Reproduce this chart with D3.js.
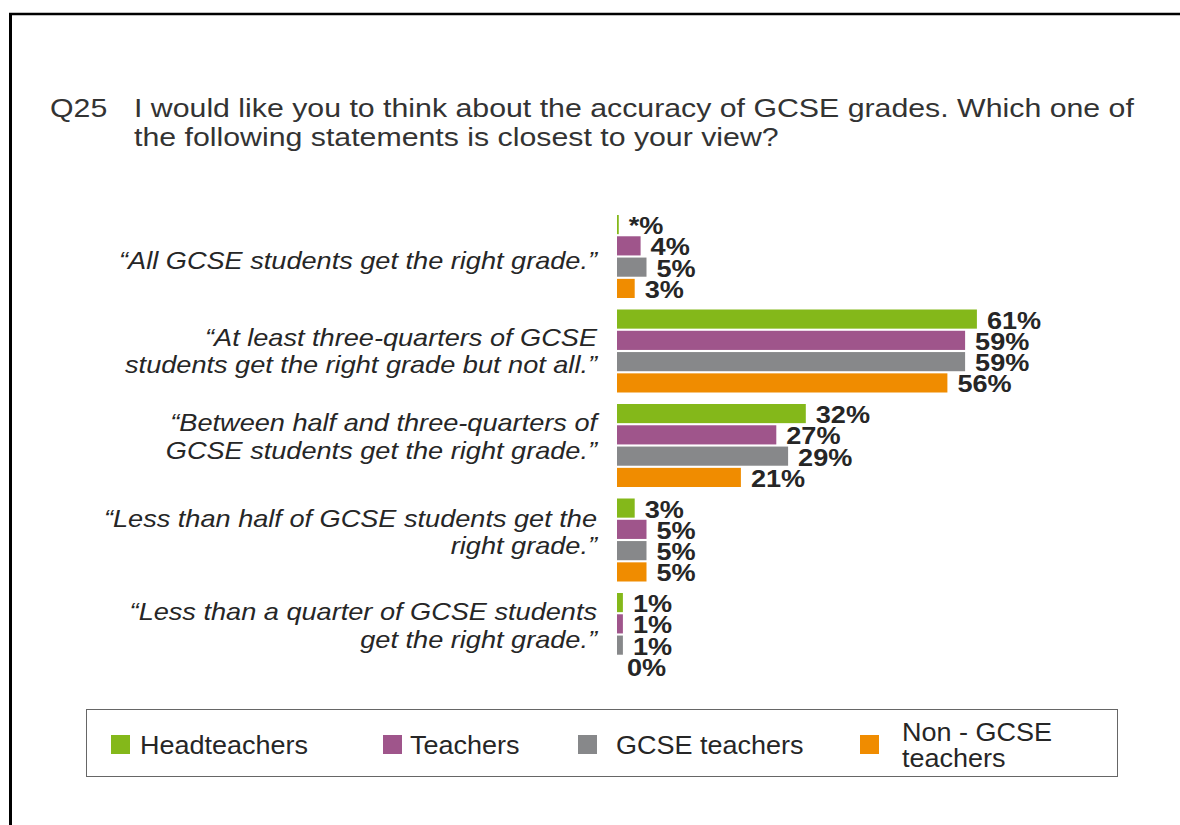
<!DOCTYPE html>
<html>
<head>
<meta charset="utf-8">
<script src="https://cdn.jsdelivr.net/npm/d3@7"></script>
<style>
  html, body { margin: 0; padding: 0; background: #fff; }
  svg { display: block; font-family: "Liberation Sans", Arial, sans-serif; }
</style>
</head>
<body>
<svg id="chart" width="1180" height="825"></svg>
<script>
// Survey statements (each may wrap over two lines)
const categories = [
  ["\u201CAll GCSE students get the right grade.\u201D"],
  ["\u201CAt least three-quarters of GCSE", "students get the right grade but not all.\u201D"],
  ["\u201CBetween half and three-quarters of", "GCSE students get the right grade.\u201D"],
  ["\u201CLess than half of GCSE students get the", "right grade.\u201D"],
  ["\u201CLess than a quarter of GCSE students", "get the right grade.\u201D"]
];
const seriesNames = ["Headteachers", "Teachers", "GCSE teachers", "Non - GCSE teachers"];
const seriesColors = ["#84b81a", "#9f558b", "#87888a", "#f08c00"];

// Percentages per group ("*" = less than half a percent)
const headteachers  = [0.3, 61, 32, 3, 1];
const teachers      = [4, 59, 27, 5, 1];
const gcseTeachers  = [5, 59, 29, 5, 1];
const nonGcseTeach  = [3, 56, 21, 5, 0];
const headLabels    = ["*%", "61%", "32%", "3%", "1%"];

const seriesValues = [headteachers, teachers, gcseTeachers, nonGcseTeach];

const svg = d3.select("#chart");
const textColor = "#262626";
const WIDE = 1.165; // horizontal stretch used for the report's lettering

// Adds a text at (x, y), widened horizontally around its anchor point
function label(parent, x, y, str, sx) {
  return parent.append("text")
    .attr("transform", `translate(${x},${y}) scale(${sx},1)`)
    .text(str);
}

// Outer frame (top and left rules)
svg.append("line").attr("x1", 9).attr("x2", 1180).attr("y1", 14).attr("y2", 14)
  .attr("stroke", "#000").attr("stroke-width", 2.5);
svg.append("line").attr("x1", 10.5).attr("x2", 10.5).attr("y1", 13).attr("y2", 825)
  .attr("stroke", "#000").attr("stroke-width", 3);

// Question heading
const title = svg.append("g").attr("fill", "#333").style("font-size", "26px");
label(title, 50, 117, "Q25", WIDE);
label(title, 134, 117, "I would like you to think about the accuracy of GCSE grades. Which one of", WIDE);
label(title, 134, 146, "the following statements is closest to your view?", WIDE);

// Scales
const x = d3.scaleLinear().domain([0, 100]).range([617, 617 + 590]);
const groupIdx = d3.range(categories.length);
const y0 = d3.scaleBand().domain(groupIdx).range([215, 215 + 94.5 * categories.length]).padding(0);
const y1 = d3.scaleBand().domain(d3.range(seriesNames.length)).range([0, 83]).paddingInner(0.1);

// Bars and value labels
const groups = svg.append("g").selectAll("g.group").data(groupIdx).join("g")
  .attr("class", "group")
  .attr("transform", i => `translate(0,${y0(i)})`);

groups.each(function(gi) {
  const g = d3.select(this);
  const rows = seriesValues.map((vals, si) => ({
    si, value: vals[gi],
    label: si === 0 ? headLabels[gi] : vals[gi] + "%"
  }));
  g.selectAll("rect").data(rows.filter(d => d.value > 0)).join("rect")
    .attr("x", x(0))
    .attr("y", d => y1(d.si))
    .attr("width", d => x(d.value) - x(0))
    .attr("height", y1.bandwidth())
    .attr("fill", d => seriesColors[d.si]);
  const vals = g.append("g").attr("fill", textColor)
    .style("font-size", "24px").style("font-weight", "bold");
  rows.forEach(d => {
    label(vals, x(d.value) + 10, y1(d.si) + y1.bandwidth() / 2 + 9.5, d.label, 1.13);
  });
});

// Statement labels, right-aligned to the left of the bars
const catLabels = svg.append("g").style("font-size", "23px").style("font-style", "italic")
  .attr("fill", textColor).attr("text-anchor", "end");
const catShift = [4, 0, -9, -8, -9];
categories.forEach((lines, i) => {
  const mid = y0(i) + 42 + catShift[i];
  const lh = 27.5;
  lines.forEach((ln, k) => {
    label(catLabels, 597, mid + 8 + (k - (lines.length - 1) / 2) * lh, ln, 1.18);
  });
});

// Legend
const legend = svg.append("g");
legend.append("rect").attr("x", 86.5).attr("y", 709.5).attr("width", 1031).attr("height", 67)
  .attr("fill", "none").attr("stroke", "#666").attr("stroke-width", 1);
const legendSwatchX = [111, 383, 578, 860];
const legendTextX = [140, 410, 616, 902];
const legendLines = [["Headteachers"], ["Teachers"], ["GCSE teachers"], ["Non - GCSE", "teachers"]];
const legendText = legend.append("g").attr("fill", textColor).style("font-size", "25px");
seriesNames.forEach((name, i) => {
  legend.append("rect").attr("x", legendSwatchX[i]).attr("y", 735)
    .attr("width", 19).attr("height", 19).attr("fill", seriesColors[i]);
  const lines = legendLines[i];
  lines.forEach((ln, k) => {
    label(legendText, legendTextX[i], 753.5 + (k - (lines.length - 1) / 2) * 26, ln, 1.08);
  });
});
</script>
</body>
</html>
